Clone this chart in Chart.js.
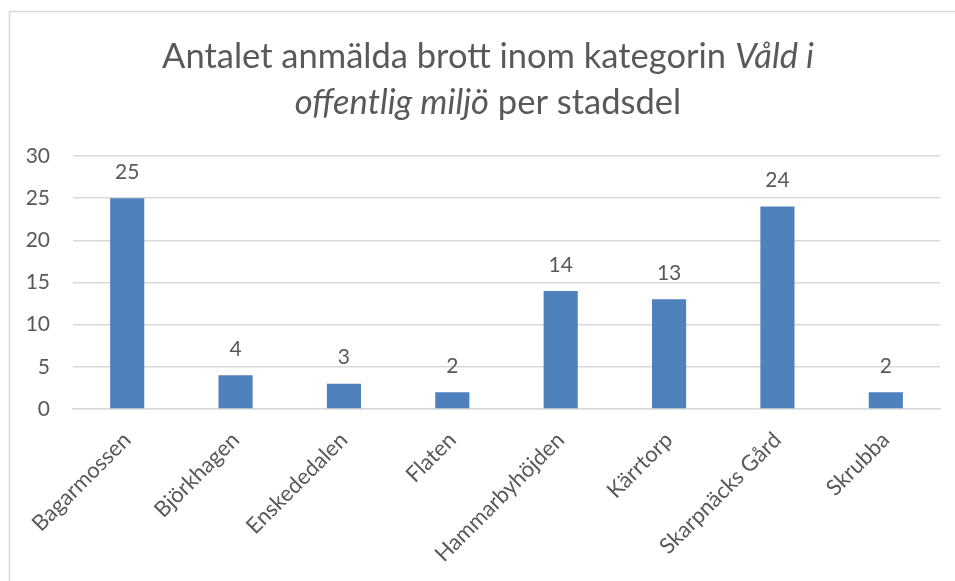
<!DOCTYPE html>
<html>
<head>
<meta charset="utf-8">
<script src="https://cdn.jsdelivr.net/npm/chart.js@4"></script>
<style>
    html, body { margin: 0; padding: 0; background: #fff; }
    #wrap { width: 955px; height: 581px; }
</style>
</head>
<body>
<div id="wrap"><canvas id="barChart" width="955" height="581"></canvas></div>
<script>
// Data
const categories = ['Bagarmossen', 'Björkhagen', 'Enskededalen', 'Flaten', 'Hammarbyhöjden', 'Kärrtorp', 'Skarpnäcks Gård', 'Skrubba'];
const reportedCrimes = [25, 4, 3, 2, 14, 13, 24, 2];
const yTicks = [0, 5, 10, 15, 20, 25, 30];

// Title lines, each made of [text, italic] parts
const titleLines = [
    [['Antalet anmälda brott inom kategorin ', false], ['Våld i', true]],
    [['offentlig miljö', true], [' per stadsdel', false]]
];

const fontFamily = 'Lato, "Noto Sans", sans-serif';
const textColor = '#595959';
const gridColor = '#D9D9D9';
const barColor = '#4F81BD';

// Draws the outer frame and the mixed italic title
const frameAndTitle = {
    id: 'frameAndTitle',
    beforeDraw(chart) {
        const ctx = chart.ctx;
        ctx.save();
        ctx.strokeStyle = gridColor;
        ctx.lineWidth = 1.5;
        ctx.strokeRect(9.5, 11.5, 1000, 700);
        ctx.restore();
    },
    afterDraw(chart) {
        const ctx = chart.ctx;
        const centerX = 488;
        const baselines = [68, 114];
        ctx.save();
        ctx.fillStyle = textColor;
        ctx.textBaseline = 'alphabetic';
        ctx.textAlign = 'left';
        titleLines.forEach((parts, i) => {
            let total = 0;
            parts.forEach(([txt, it]) => {
                ctx.font = `${it ? 'italic ' : ''}34.5px ${fontFamily}`;
                total += ctx.measureText(txt).width;
            });
            let x = centerX - total / 2;
            parts.forEach(([txt, it]) => {
                ctx.font = `${it ? 'italic ' : ''}34.5px ${fontFamily}`;
                ctx.fillText(txt, x, baselines[i]);
                x += ctx.measureText(txt).width;
            });
        });
        ctx.restore();
    }
};

// Value labels above each bar
const valueLabels = {
    id: 'valueLabels',
    afterDatasetsDraw(chart) {
        const ctx = chart.ctx;
        const meta = chart.getDatasetMeta(0);
        ctx.save();
        ctx.fillStyle = textColor;
        ctx.font = `21px ${fontFamily}`;
        ctx.textAlign = 'center';
        ctx.textBaseline = 'middle';
        meta.data.forEach((bar, i) => {
            ctx.fillText(reportedCrimes[i], bar.x, bar.y - 26);
        });
        ctx.restore();
    }
};

const ctx = document.getElementById('barChart').getContext('2d');
const chart = new Chart(ctx, {
    type: 'bar',
    data: {
        labels: categories,
        datasets: [{
            label: 'Antal',
            data: reportedCrimes,
            backgroundColor: barColor,
            borderWidth: 0,
            barPercentage: 0.315,
            categoryPercentage: 1
        }]
    },
    options: {
        responsive: false,
        animation: false,
        layout: {
            padding: { left: 10, right: 15, top: 156, bottom: 0 }
        },
        plugins: {
            legend: { display: false },
            title: { display: false },
            tooltip: { enabled: false }
        },
        scales: {
            x: {
                grid: { display: false, drawTicks: false },
                border: { display: true, color: gridColor, width: 1.5 },
                ticks: {
                    autoSkip: false,
                    maxRotation: 45,
                    minRotation: 45,
                    padding: 18,
                    color: textColor,
                    font: { family: fontFamily, size: 22 }
                },
                afterFit(scale) { scale.height = 172; }
            },
            y: {
                min: 0,
                max: 30,
                grid: { color: gridColor, lineWidth: 1.5, drawTicks: false },
                border: { display: false },
                ticks: {
                    stepSize: 5,
                    padding: 23,
                    color: textColor,
                    font: { family: fontFamily, size: 21 },
                    callback: (v) => yTicks.includes(v) ? v : ''
                },
                afterFit(scale) { scale.width = 63; }
            }
        }
    },
    plugins: [frameAndTitle, valueLabels]
});
</script>
</body>
</html>
